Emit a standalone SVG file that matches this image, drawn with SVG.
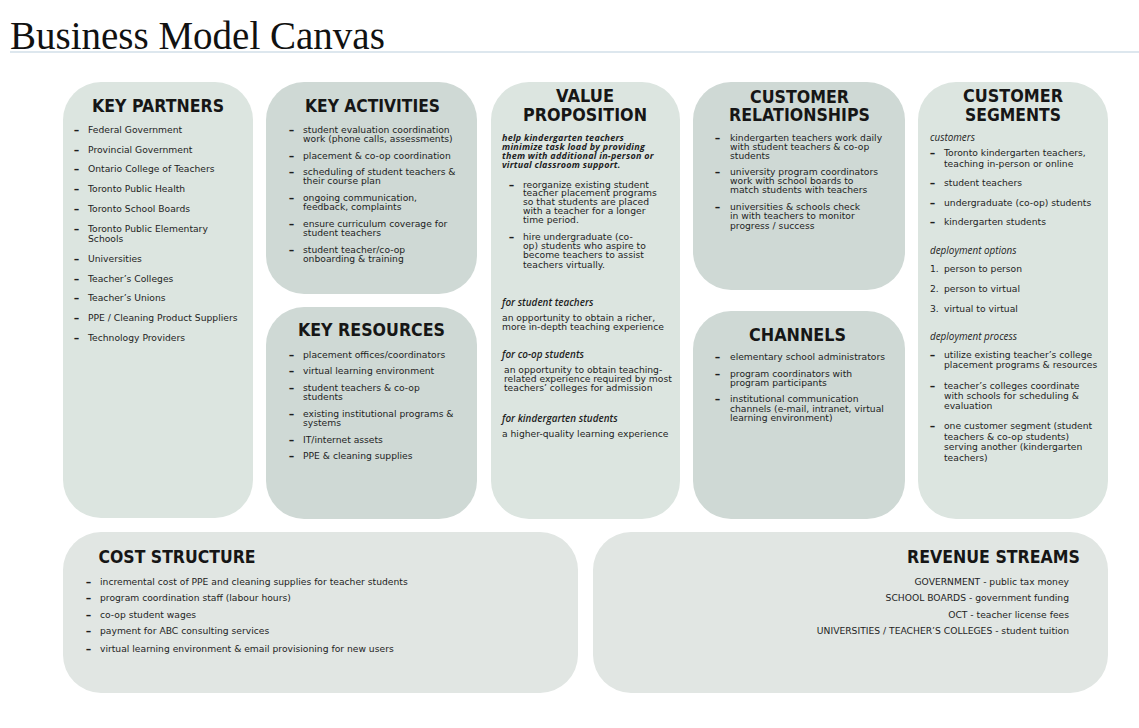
<svg xmlns="http://www.w3.org/2000/svg" width="1139" height="728" viewBox="0 0 1139 728">
<style>
.bg{fill:#ffffff}
.lt{fill:#dce5e0}
.dk{fill:#cfd9d5}
.bt{fill:#e1e6e3}
.title{font-family:"Liberation Serif","Times New Roman",serif;font-size:39px;fill:#111111}
.h{font-family:"DejaVu Sans","Open Sans",sans-serif;font-weight:bold;font-size:17px;fill:#161616;text-anchor:middle}
.t{font-family:"DejaVu Sans","Open Sans",sans-serif;font-size:9.2px;fill:#1e1e1e}
.i{font-family:"Open Sans","Noto Sans",sans-serif;font-size:9.9px;font-style:italic;fill:#1e1e1e}
.si{font-family:"Open Sans","Noto Sans",sans-serif;font-size:9.9px;font-style:italic;font-weight:600;fill:#1e1e1e}
.bi{font-family:"Open Sans","Noto Sans",sans-serif;font-size:9px;letter-spacing:0.25px;font-style:italic;font-weight:bold;fill:#1e1e1e}
.d{font-family:"Open Sans","Noto Sans",sans-serif;font-size:10px;font-weight:800;fill:#1e1e1e}
.r{text-anchor:end}
</style>
<rect class="bg" x="0" y="0" width="1139" height="728"/>
<g id="title">
<text class="title" x="10" y="49">Business Model Canvas</text>
<line x1="10" y1="52" x2="1139" y2="52" stroke="#dde7ee" stroke-width="2"/>
</g>

<g id="key-partners">
<rect class="lt" x="63" y="82" width="190" height="436" rx="38"/>
<text class="h" x="158" y="111.7" textLength="132" lengthAdjust="spacingAndGlyphs">KEY PARTNERS</text>
<text class="d" x="74" y="132.5">–</text><text class="t" x="88" y="132.5">Federal Government</text>
<text class="d" x="74" y="152.8">–</text><text class="t" x="88" y="152.8">Provincial Government</text>
<text class="d" x="74" y="171.8">–</text><text class="t" x="88" y="171.8">Ontario College of Teachers</text>
<text class="d" x="74" y="191.8">–</text><text class="t" x="88" y="191.8">Toronto Public Health</text>
<text class="d" x="74" y="211.8">–</text><text class="t" x="88" y="211.8">Toronto School Boards</text>
<text class="d" x="74" y="231.5">–</text><text class="t" x="88" y="231.5">Toronto Public Elementary<tspan x="88" dy="10.3">Schools</tspan></text>
<text class="d" x="74" y="261.8">–</text><text class="t" x="88" y="261.8">Universities</text>
<text class="d" x="74" y="281.5">–</text><text class="t" x="88" y="281.5">Teacher’s Colleges</text>
<text class="d" x="74" y="300.9">–</text><text class="t" x="88" y="300.9">Teacher’s Unions</text>
<text class="d" x="74" y="320.9">–</text><text class="t" x="88" y="320.9">PPE / Cleaning Product Suppliers</text>
<text class="d" x="74" y="340.5">–</text><text class="t" x="88" y="340.5">Technology Providers</text>
</g>

<g id="key-activities">
<rect class="dk" x="266" y="82" width="211" height="212" rx="38"/>
<text class="h" x="372.5" y="111.7" textLength="135" lengthAdjust="spacingAndGlyphs">KEY ACTIVITIES</text>
<text class="d" x="289" y="133">–</text><text class="t" x="303" y="133">student evaluation coordination<tspan x="303" dy="9">work (phone calls, assessments)</tspan></text>
<text class="d" x="289" y="158.5">–</text><text class="t" x="303" y="158.5">placement &amp; co-op coordination</text>
<text class="d" x="289" y="174.9">–</text><text class="t" x="303" y="174.9">scheduling of student teachers &amp;<tspan x="303" dy="9">their course plan</tspan></text>
<text class="d" x="289" y="201.2">–</text><text class="t" x="303" y="201.2">ongoing communication,<tspan x="303" dy="8.8">feedback, complaints</tspan></text>
<text class="d" x="289" y="227.2">–</text><text class="t" x="303" y="227.2">ensure curriculum coverage for<tspan x="303" dy="9.2">student teachers</tspan></text>
<text class="d" x="289" y="252.9">–</text><text class="t" x="303" y="252.9">student teacher/co-op<tspan x="303" dy="9">onboarding &amp; training</tspan></text>
</g>

<g id="key-resources">
<rect class="dk" x="266" y="307" width="211" height="212" rx="38"/>
<text class="h" x="371.5" y="336.2" textLength="147" lengthAdjust="spacingAndGlyphs">KEY RESOURCES</text>
<text class="d" x="289" y="357.5">–</text><text class="t" x="303" y="357.5">placement offices/coordinators</text>
<text class="d" x="289" y="374.2">–</text><text class="t" x="303" y="374.2">virtual learning environment</text>
<text class="d" x="289" y="390.9">–</text><text class="t" x="303" y="390.9">student teachers &amp; co-op<tspan x="303" dy="9">students</tspan></text>
<text class="d" x="289" y="417.2">–</text><text class="t" x="303" y="417.2">existing institutional programs &amp;<tspan x="303" dy="8.7">systems</tspan></text>
<text class="d" x="289" y="442.5">–</text><text class="t" x="303" y="442.5">IT/internet assets</text>
<text class="d" x="289" y="458.9">–</text><text class="t" x="303" y="458.9">PPE &amp; cleaning supplies</text>
</g>

<g id="value-proposition">
<rect class="lt" x="491" y="82" width="189" height="437" rx="38"/>
<text class="h" x="585" y="102.2" textLength="58" lengthAdjust="spacingAndGlyphs">VALUE</text>
<text class="h" x="585" y="120.5" textLength="124" lengthAdjust="spacingAndGlyphs">PROPOSITION</text>
<text class="bi" x="502" y="140.9">help kindergarten teachers<tspan x="502" dy="9">minimize task load by providing</tspan><tspan x="502" dy="9">them with additional in-person or</tspan><tspan x="502" dy="9">virtual classroom support.</tspan></text>
<text class="d" x="509" y="187.5">–</text><text class="t" x="523" y="187.5">reorganize existing student<tspan x="523" dy="8.8">teacher placement programs</tspan><tspan x="523" dy="8.9">so that students are placed</tspan><tspan x="523" dy="8.9">with a teacher for a longer</tspan><tspan x="523" dy="9.1">time period.</tspan></text>
<text class="d" x="509" y="239.9">–</text><text class="t" x="523" y="239.9">hire undergraduate (co-<tspan x="523" dy="9">op) students who aspire to</tspan><tspan x="523" dy="9">become teachers to assist</tspan><tspan x="523" dy="9.6">teachers virtually.</tspan></text>
<text class="si" x="502" y="305.5">for student teachers</text>
<text class="t" x="502" y="321.2">an opportunity to obtain a richer,<tspan x="502" dy="8.7">more in-depth teaching experience</tspan></text>
<text class="si" x="502" y="357.5">for co-op students</text>
<text class="t" x="504" y="372.5">an opportunity to obtain teaching-<tspan x="504" dy="9">related experience required by most</tspan><tspan x="504" dy="9">teachers’ colleges for admission</tspan></text>
<text class="si" x="502" y="422.2">for kindergarten students</text>
<text class="t" x="502" y="437.2">a higher-quality learning experience</text>
</g>

<g id="customer-relationships">
<rect class="dk" x="693" y="82" width="212" height="208" rx="38"/>
<text class="h" x="799.5" y="103.3" textLength="99" lengthAdjust="spacingAndGlyphs">CUSTOMER</text>
<text class="h" x="799.5" y="120.5" textLength="141" lengthAdjust="spacingAndGlyphs">RELATIONSHIPS</text>
<text class="d" x="715" y="140.9">–</text><text class="t" x="730" y="140.9">kindergarten teachers work daily<tspan x="730" dy="9">with student teachers &amp; co-op</tspan><tspan x="730" dy="9">students</tspan></text>
<text class="d" x="715" y="175.2">–</text><text class="t" x="730" y="175.2">university program coordinators<tspan x="730" dy="9">work with school boards to</tspan><tspan x="730" dy="9">match students with teachers</tspan></text>
<text class="d" x="715" y="210.2">–</text><text class="t" x="730" y="210.2">universities &amp; schools check<tspan x="730" dy="9">in with teachers to monitor</tspan><tspan x="730" dy="9.3">progress / success</tspan></text>
</g>

<g id="channels">
<rect class="dk" x="693" y="311" width="212" height="208" rx="38"/>
<text class="h" x="797.5" y="340.5" textLength="97" lengthAdjust="spacingAndGlyphs">CHANNELS</text>
<text class="d" x="715" y="359.9">–</text><text class="t" x="730" y="359.9">elementary school administrators</text>
<text class="d" x="715" y="376.5">–</text><text class="t" x="730" y="376.5">program coordinators with<tspan x="730" dy="9.4">program participants</tspan></text>
<text class="d" x="715" y="402.2">–</text><text class="t" x="730" y="402.2">institutional communication<tspan x="730" dy="9.3">channels (e-mail, intranet, virtual</tspan><tspan x="730" dy="9.4">learning environment)</tspan></text>
</g>

<g id="customer-segments">
<rect class="lt" x="918" y="82" width="190" height="437" rx="38"/>
<text class="h" x="1013" y="102.2" textLength="100" lengthAdjust="spacingAndGlyphs">CUSTOMER</text>
<text class="h" x="1013" y="121.2" textLength="96" lengthAdjust="spacingAndGlyphs">SEGMENTS</text>
<text class="i" x="930" y="140.9">customers</text>
<text class="d" x="930" y="155.9">–</text><text class="t" x="944" y="155.9">Toronto kindergarten teachers,<tspan x="944" dy="10.6">teaching in-person or online</tspan></text>
<text class="d" x="930" y="185.9">–</text><text class="t" x="944" y="185.9">student teachers</text>
<text class="d" x="930" y="205.9">–</text><text class="t" x="944" y="205.9">undergraduate (co-op) students</text>
<text class="d" x="930" y="225.2">–</text><text class="t" x="944" y="225.2">kindergarten students</text>
<text class="i" x="930" y="253.9">deployment options</text>
<text class="t" x="930" y="271.9">1.</text><text class="t" x="944" y="271.9">person to person</text>
<text class="t" x="930" y="291.9">2.</text><text class="t" x="944" y="291.9">person to virtual</text>
<text class="t" x="930" y="311.5">3.</text><text class="t" x="944" y="311.5">virtual to virtual</text>
<text class="i" x="930" y="339.9">deployment process</text>
<text class="d" x="930" y="357.5">–</text><text class="t" x="944" y="357.5">utilize existing teacher’s college<tspan x="944" dy="10.4">placement programs &amp; resources</tspan></text>
<text class="d" x="930" y="388.5">–</text><text class="t" x="944" y="388.5">teacher’s colleges coordinate<tspan x="944" dy="10.4">with schools for scheduling &amp;</tspan><tspan x="944" dy="10.3">evaluation</tspan></text>
<text class="d" x="930" y="428.9">–</text><text class="t" x="944" y="428.9">one customer segment (student<tspan x="944" dy="10.6">teachers &amp; co-op students)</tspan><tspan x="944" dy="10.4">serving another (kindergarten</tspan><tspan x="944" dy="10.6">teachers)</tspan></text>
</g>

<g id="cost-structure">
<rect class="bt" x="63" y="532" width="515" height="161" rx="38"/>
<text class="h" x="177" y="562.9" textLength="157" lengthAdjust="spacingAndGlyphs">COST STRUCTURE</text>
<text class="d" x="86" y="584.9">–</text><text class="t" x="100" y="584.9">incremental cost of PPE and cleaning supplies for teacher students</text>
<text class="d" x="86" y="601.2">–</text><text class="t" x="100" y="601.2">program coordination staff (labour hours)</text>
<text class="d" x="86" y="617.5">–</text><text class="t" x="100" y="617.5">co-op student wages</text>
<text class="d" x="86" y="634.2">–</text><text class="t" x="100" y="634.2">payment for ABC consulting services</text>
<text class="d" x="86" y="651.5">–</text><text class="t" x="100" y="651.5">virtual learning environment &amp; email provisioning for new users</text>
</g>

<g id="revenue-streams">
<rect class="bt" x="593" y="532" width="515" height="161" rx="38"/>
<text class="h" x="993.5" y="562.9" textLength="173" lengthAdjust="spacingAndGlyphs">REVENUE STREAMS</text>
<text class="t r" x="1069" y="584.9">GOVERNMENT - public tax money</text>
<text class="t r" x="1069" y="601.2">SCHOOL BOARDS - government funding</text>
<text class="t r" x="1069" y="617.9">OCT - teacher license fees</text>
<text class="t r" x="1069" y="634.2">UNIVERSITIES / TEACHER’S COLLEGES - student tuition</text>
</g>

<g id="connectors"></g>
</svg>
